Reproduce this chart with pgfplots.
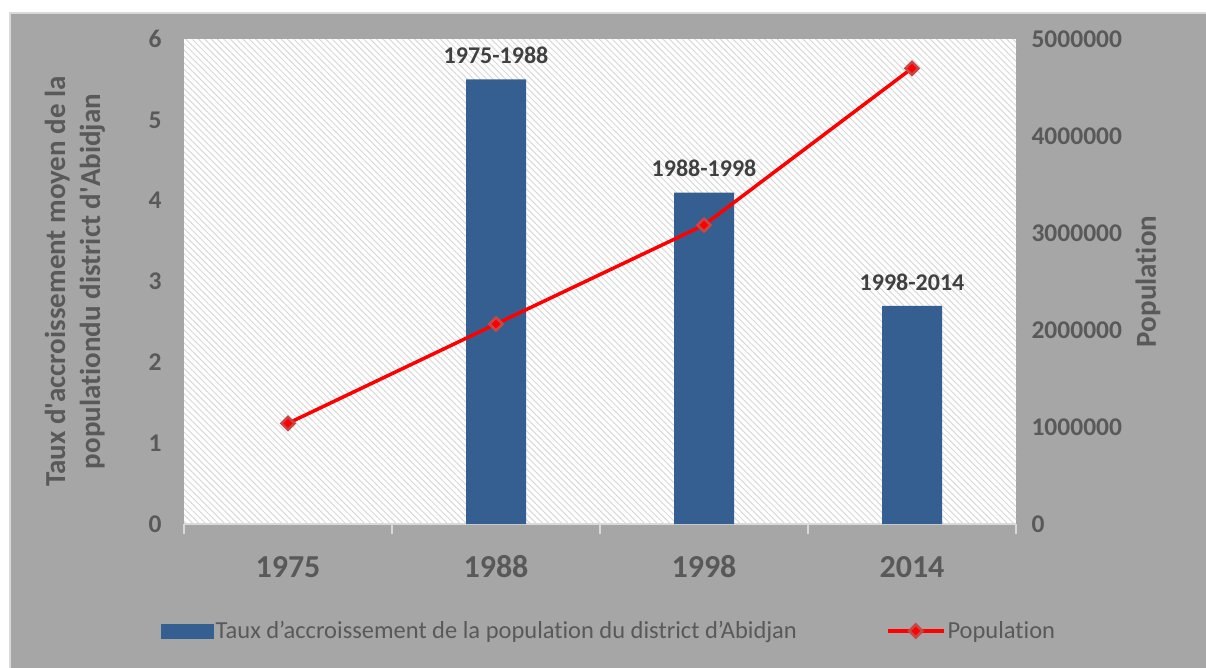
\documentclass[border=0pt]{standalone}
\usepackage{fontspec}
\setmainfont{Carlito}[Ligatures={TeX,CommonOff}]
\usepackage{pgfplots}
\pgfplotsset{compat=1.18}
\usepackage{pgfplotstable}
\usetikzlibrary{patterns.meta}

\definecolor{bgray}{HTML}{A6A6A6}
\definecolor{lgray}{HTML}{D9D9D9}
\definecolor{txt}{HTML}{595959}
\definecolor{lbl}{HTML}{404040}
\definecolor{barblue}{RGB}{54,95,145}
\definecolor{mkedge}{RGB}{200,70,70}

\pgfplotstableread{
x rate label
1 5.5 1975-1988
2 4.1 1988-1998
3 2.7 1998-2014
}\ratetable

\pgfplotstableread{
x pop
0 1038000
1 2062000
2 3082000
3 4698000
}\poptable

\newcommand{\titlefont}{\fontsize{29}{35}\selectfont\bfseries}

\pgfplotsset{
  common/.style={
    scale only axis, width=832pt, height=485pt,
    at={(184pt,-524pt)}, anchor=south west,
    xmin=-0.5, xmax=3.5,
    /pgf/number format/assume math mode=true,
    ytick style={draw=none},
    major tick length=0pt,
    tick label style={font=\fontsize{25.5}{30}\selectfont\bfseries, text=txt},
  },
  poplegend/.style={legend image code/.code={%
    \draw[##1] (0pt,0pt) -- (56pt,0pt);
    \draw[##1] plot coordinates {(28pt,0pt)};}},
  barlegend/.style={legend image code/.code={%
    \fill[barblue] (0pt,-7pt) rectangle (52pt,7pt);}},
}

\begin{document}
\begin{tikzpicture}
\path[use as bounding box] (0pt,0pt) rectangle (1206pt,-668pt);
\fill[white] (0pt,0pt) rectangle (1206pt,-668pt);
\fill[bgray] (10pt,-13pt) rectangle (1206pt,-668pt);
\draw[lgray, line width=1.5pt] (10pt,-668pt) -- (10pt,-13pt) -- (1206pt,-13pt);

% growth rate bars, left axis
\begin{axis}[common,
  axis background/.style={fill=white, postaction={pattern={Lines[angle=-45,distance=4.5pt,line width=1pt]}, pattern color=lgray}},
  ymin=0, ymax=6, ytick={0,1,2,3,4,5,6},
  axis x line*=bottom, axis y line*=left,
  y axis line style={draw=none},
  x axis line style={draw=lgray, line width=2.5pt},
  xtick={0,1,2,3}, xticklabels={1975,1988,1998,2014},
  major x tick style={draw=none},
  minor xtick={-0.5,0.5,1.5,2.5,3.5},
  minor x tick style={draw=lgray, line width=1.5pt},
  minor tick length=10pt, tick align=outside,
  xticklabel style={font=\fontsize{32}{38}\selectfont\bfseries, text height=21pt, text depth=0pt, yshift=-29pt},
  yticklabel style={xshift=-19pt},
  ylabel={Taux d\textquotesingle accroissement moyen de la\\populationdu district d\textquotesingle Abidjan},
  every axis y label/.style={at={(rel axis cs:-0.131,0.5)}, rotate=90, anchor=center,
    align=center, font=\titlefont, text=txt},
  ybar, bar width=60pt,
  nodes near coords, point meta=explicit symbolic,
  every node near coord/.append style={font=\fontsize{24}{28}\selectfont\bfseries, text=lbl, yshift=12pt},
]
\addplot[fill=barblue, draw=none] table[x=x, y=rate, meta=label] {\ratetable};
\end{axis}

% population line, right axis
\begin{axis}[common,
  ymin=0, ymax=5000000,
  ytick={0,1000000,2000000,3000000,4000000,5000000},
  axis x line=none, axis y line*=right,
  y axis line style={draw=none},
  scaled y ticks=false,
  yticklabel style={/pgf/number format/.cd, fixed, 1000 sep={}, /tikz/.cd, xshift=12pt},
  ylabel={Population},
  every axis y label/.style={at={(rel axis cs:1.1587,0.5)}, rotate=90, anchor=center,
    font=\titlefont, text=txt},
  legend style={at={(rel axis cs:-0.0276,-0.2206)}, anchor=west, draw=none, fill=none,
    inner sep=0pt, legend columns=2, font=\fontsize{24.5}{29}\selectfont, text=txt,
    nodes={inner sep=2pt},
    /tikz/every even column/.append style={column sep=87pt}},
  legend cell align=left,
]
\addlegendimage{barlegend}
\addlegendentry{Taux d’accroissement de la population du district d’Abidjan}
\addplot[red, line width=3.5pt, mark=square*, mark size=4.6pt,
  mark options={rotate=45, fill=red, draw=mkedge, line width=2.5pt}, poplegend]
  table[x=x, y=pop] {\poptable};
\addlegendentry{Population}
\end{axis}
\end{tikzpicture}
\end{document}
